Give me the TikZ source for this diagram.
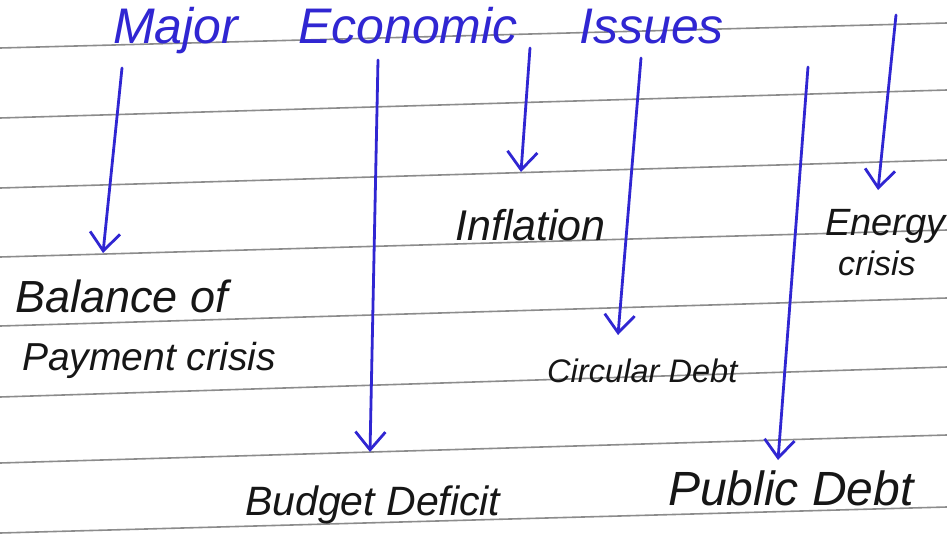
\documentclass[tikz,border=0pt]{standalone}
\usepackage{fontspec}
\setmainfont{Liberation Sans}
\usetikzlibrary{arrows.meta}
\definecolor{ink}{RGB}{48,38,210}
\definecolor{pencil}{RGB}{22,22,22}
\definecolor{ruling}{RGB}{140,140,140}
\tikzset{
  ruleline/.style={draw=ruling, line width=1.6pt},
  branch/.style={draw=ink, line width=2.8pt, line cap=round,
    -{Straight Barb[length=18pt,width=30pt,line width=2.8pt]}},
  issue/.style={anchor=base west, inner sep=0pt, text=pencil, font=\itshape},
  heading/.style={anchor=base west, inner sep=0pt, text=ink, font=\itshape},
}
\newcommand{\fsz}[1]{\fontsize{#1}{#1}\selectfont}
\begin{document}
\begin{tikzpicture}[x=1pt,y=-1pt]
  \useasboundingbox (0,0) rectangle (947,543);
  \fill[white] (0,0) rectangle (947,543);

  % ruled notebook lines, slightly tilted
  \foreach \yl/\yr in {48/23, 118/90, 188/160, 257/230, 326/298, 397/367, 463/435, 533/507}
    \draw[ruleline] (0,\yl) -- (947,\yr);

  % heading, widely spaced words
  \node[heading] (title) at (113,44) {\fsz{50}Major\hspace{46pt} Economic\hspace{48pt} Issues};

  % the six issues
  \node[issue] (bop1) at (15,312) {\fsz{45}Balance of};
  \node[issue] (bop2) at (22,370) {\fsz{39}Payment crisis};
  \node[issue] (bud)  at (245,515) {\fsz{41}Budget Deficit};
  \node[issue] (inf)  at (455,240) {\fsz{43}Inflation};
  \node[issue] (circ) at (547,382) {\fsz{32.6}Circular Debt};
  \node[issue] (pub)  at (668,505) {\fsz{48}Public Debt};
  \node[issue] (ene1) at (825,235) {\fsz{38}Energy};
  \node[issue] (ene2) at (838,275) {\fsz{34}crisis};

  % arrow ends
  \coordinate (s1) at (122,68);  \coordinate (t1) at (103,253);
  \coordinate (s2) at (378,60);  \coordinate (t2) at (370,452);
  \coordinate (s3) at (530,48);  \coordinate (t3) at (521,172);
  \coordinate (s4) at (641,58);  \coordinate (t4) at (618,335);
  \coordinate (s5) at (808,67);  \coordinate (t5) at (778,460);
  \coordinate (s6) at (896,15);  \coordinate (t6) at (878,190);

  \draw[branch] (s1) -- (t1);
  \draw[branch] (s2) -- (t2);
  \draw[branch] (s3) -- (t3);
  \draw[branch] (s4) -- (t4);
  \draw[branch] (s5) -- (t5);
  \draw[branch] (s6) -- (t6);
\end{tikzpicture}
\end{document}
